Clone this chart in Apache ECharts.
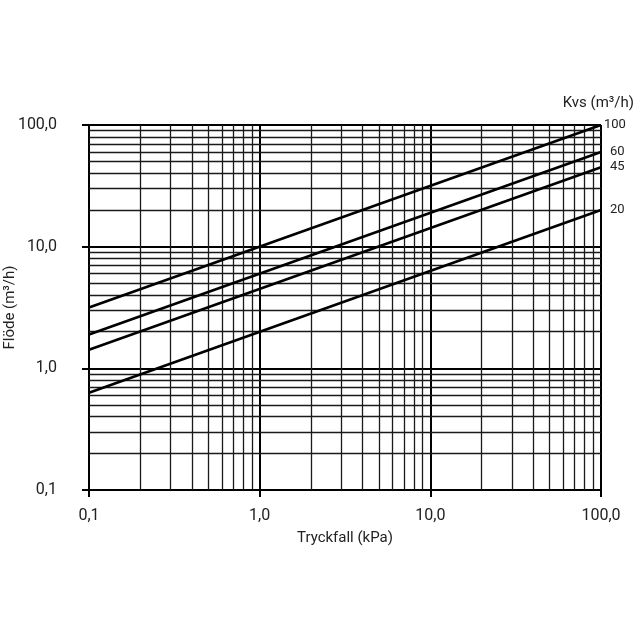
<!DOCTYPE html>
<html>
<head>
<meta charset="utf-8">
<script src="https://cdn.jsdelivr.net/npm/echarts@6/dist/echarts.min.js"></script>
<style>
  html, body { margin: 0; padding: 0; background: #fff; }
  #main { width: 640px; height: 640px; }
</style>
</head>
<body>
<div id="main"></div>
<script>
// Kvs-värden (m3/h) och flöde vid 0,1 kPa resp. 100 kPa
var kvsValues = [100, 60, 45, 20];
var dpPoints = [0.1, 100];
var flowAtLow = [3.16, 1.9, 1.42, 0.63];
var flowAtHigh = [100, 60, 45, 20];

// mellanliggande rutnätslinjer
var minorX = [0.2, 0.3, 0.4, 0.5, 0.6, 0.7, 0.8, 0.9, 2, 3, 4, 5, 6, 7, 8, 9, 20, 30, 40, 50, 60, 70, 80, 90];
var minorY = [0.2, 0.3, 0.4, 0.5, 0.6, 0.7, 0.8, 0.9, 2, 3, 4, 5, 6, 7, 8, 9, 20, 30, 40, 50, 60, 70, 80, 90];

var myChart = echarts.init(document.getElementById('main'));

function fmt(v) {
    return v.toFixed(1).replace('.', ',');
}

var gridMarks = [];
minorX.forEach(function (v) { gridMarks.push({ xAxis: v }); });
minorY.forEach(function (v) { gridMarks.push({ yAxis: v }); });

var series = [{
    type: 'line',
    data: [],
    silent: true,
    z: 1,
    markLine: {
        silent: true,
        symbol: 'none',
        animation: false,
        label: { show: false },
        lineStyle: { color: '#1a1a1a', width: 1.3, type: 'solid' },
        data: gridMarks
    }
}];

kvsValues.forEach(function (k, i) {
    series.push({
        name: String(k),
        type: 'line',
        showSymbol: false,
        symbol: 'none',
        z: 5,
        lineStyle: { color: '#000', width: 2.6 },
        data: [[dpPoints[0], flowAtLow[i]], [dpPoints[1], flowAtHigh[i]]],
        endLabel: {
            show: true,
            formatter: String(k),
            color: '#222',
            fontSize: 13,
            fontFamily: 'Roboto',
            distance: i === 0 ? 3 : 9
        }
    });
});

var option = {
    backgroundColor: '#fff',
    animation: false,
    textStyle: { fontFamily: 'Roboto' },
    title: {
        text: 'Kvs (m³/h)',
        right: 1,
        top: 91,
        textStyle: { fontSize: 15, fontWeight: 'normal', color: '#222', fontFamily: 'Roboto' }
    },
    grid: {
        left: 89,
        right: 39,
        top: 125,
        bottom: 150,
        outerBoundsMode: 'none'
    },
    xAxis: {
        type: 'log',
        logBase: 10,
        min: 0.1,
        max: 100,
        name: 'Tryckfall (kPa)',
        nameLocation: 'middle',
        nameGap: 41,
        nameMoveOverlap: false,
        nameTextStyle: { fontSize: 15, color: '#222' },
        axisLine: { show: true, lineStyle: { color: '#000', width: 2 } },
        axisTick: { show: true, length: 7, lineStyle: { color: '#000', width: 2 } },
        axisLabel: {
            margin: 18,
            fontSize: 16,
            color: '#222',
            formatter: fmt
        },
        splitLine: { show: true, lineStyle: { color: '#000', width: 2 } }
    },
    yAxis: {
        type: 'log',
        logBase: 10,
        min: 0.1,
        max: 100,
        name: 'Flöde (m³/h)',
        nameLocation: 'middle',
        nameGap: 71,
        nameMoveOverlap: false,
        nameTextStyle: { fontSize: 15, color: '#222' },
        axisLine: { show: true, lineStyle: { color: '#000', width: 2 } },
        axisTick: { show: true, length: 7, lineStyle: { color: '#000', width: 2 } },
        axisLabel: {
            margin: 32,
            fontSize: 16,
            color: '#222',
            formatter: fmt
        },
        splitLine: { show: true, lineStyle: { color: '#000', width: 2 } }
    },
    series: series
};

myChart.setOption(option);
</script>
</body>
</html>
